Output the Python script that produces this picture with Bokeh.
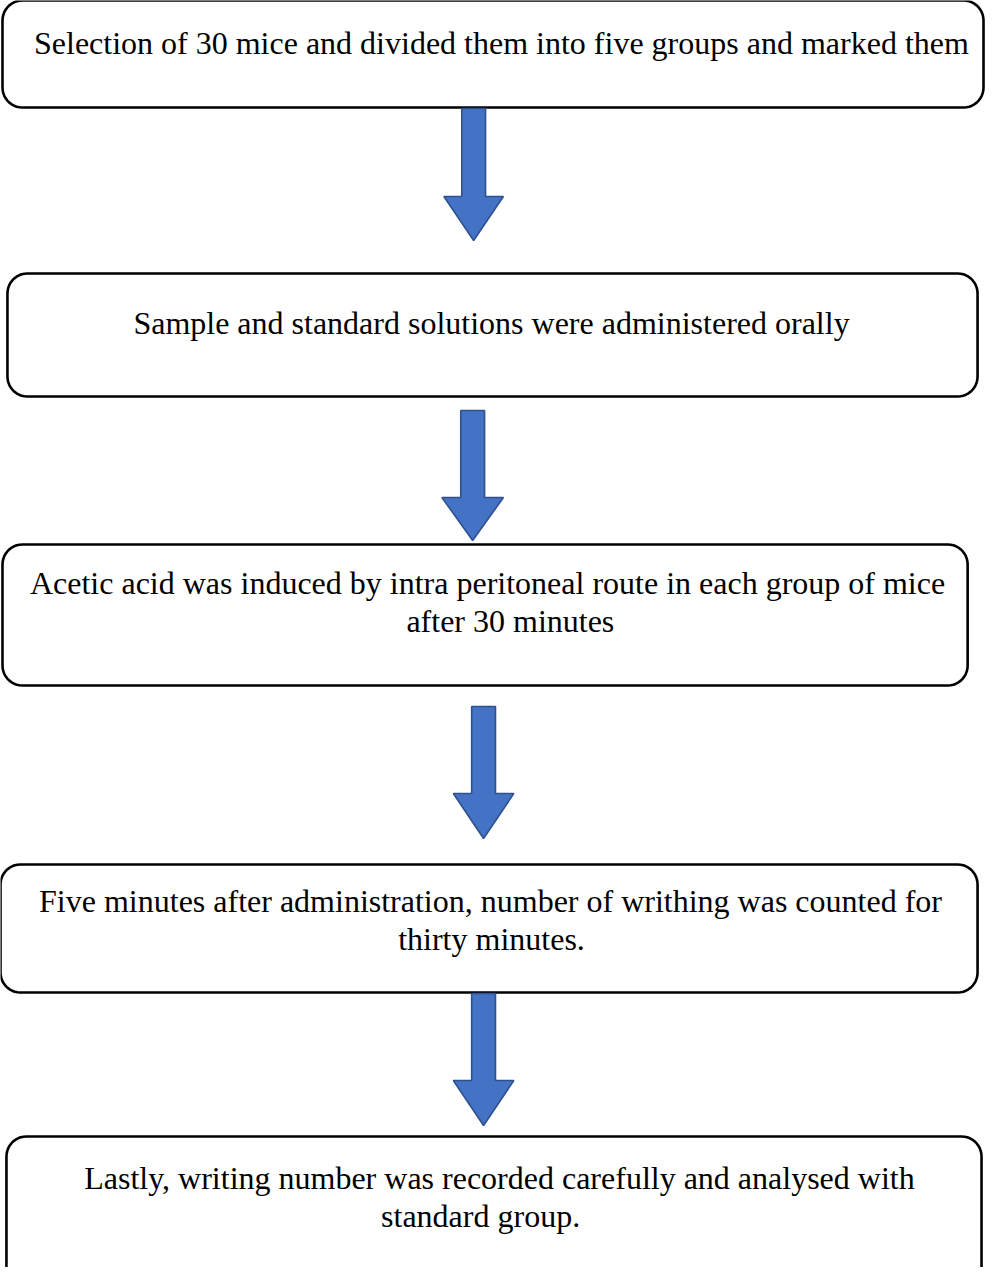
import numpy as np
from bokeh.plotting import figure
from bokeh.models import Range1d
from bokeh.core.properties import value
from bokeh.embed import file_html
from bokeh.resources import INLINE

# ---- data (page pixel coordinates) ----
box_left = [10, 15, 10, 8, 14]
box_right = [999, 993, 983, 993, 997]
box_top = [8, 281, 552, 872, 1144]
box_bottom = [115, 404, 693, 1000, 1300]

text_lines = [
    "Selection of 30 mice and divided them into five groups and marked them",
    "Sample and standard solutions were administered orally",
    "Acetic acid was induced by intra peritoneal route in each group of mice",
    "after 30 minutes",
    "Five minutes after administration, number of writhing was counted for",
    "thirty minutes.",
    "Lastly, writing number was recorded carefully and analysed with",
    "standard group.",
]
text_x = [513, 503, 499, 522, 502, 503, 511, 492]
text_y = [50, 330, 590, 628, 908, 946, 1185, 1223]

arrow_cx = [485, 484, 495, 495]
arrow_top = [116, 418, 714, 1001]
arrow_neck = [204, 505, 801, 1088]
arrow_tip = [248, 548, 846, 1133]
arrow_shaft_half = [12, 12, 12, 12]
arrow_head_half = [30, 31, 30.5, 30.5]

RADIUS = 20

W, H = 985, 1267
p = figure(width=W, height=H, output_backend="svg", toolbar_location=None,
           x_range=Range1d(8, 1001), y_range=Range1d(8 + H, 8),
           min_border=0)
p.axis.visible = False
p.grid.visible = False
p.outline_line_color = None
p.background_fill_color = "white"
p.border_fill_color = "white"


def rounded_rect(l, r, t, b, rad, n=12):
    xs, ys = [], []
    corners = [
        (r - rad, t + rad, -np.pi / 2, 0),
        (r - rad, b - rad, 0, np.pi / 2),
        (l + rad, b - rad, np.pi / 2, np.pi),
        (l + rad, t + rad, np.pi, 1.5 * np.pi),
    ]
    for cx, cy, a0, a1 in corners:
        a = np.linspace(a0, a1, n)
        xs.extend(cx + rad * np.cos(a))
        ys.extend(cy + rad * np.sin(a))
    return xs, ys


bx, by = [], []
for l, r, t, b in zip(box_left, box_right, box_top, box_bottom):
    xs, ys = rounded_rect(l, r, t, b, RADIUS)
    bx.append(xs)
    by.append(ys)
p.patches(bx, by, fill_color="white", line_color="black", line_width=2.6)

ax, ay = [], []
for cx, t, nk, tip, sh, hh in zip(arrow_cx, arrow_top, arrow_neck, arrow_tip,
                                   arrow_shaft_half, arrow_head_half):
    ax.append([cx - sh, cx + sh, cx + sh, cx + hh, cx, cx - hh, cx - sh])
    ay.append([t, t, nk, nk, tip, nk, nk])
p.patches(ax, ay, fill_color="#4472C4", line_color="#2F528F", line_width=1.6)

p.text(x=text_x, y=text_y, text=text_lines, text_align="center",
       text_baseline="middle", text_font=value("Liberation Serif"),
       text_font_size="32px", text_color="black")

open("out.html", "w").write(file_html(p, INLINE))
